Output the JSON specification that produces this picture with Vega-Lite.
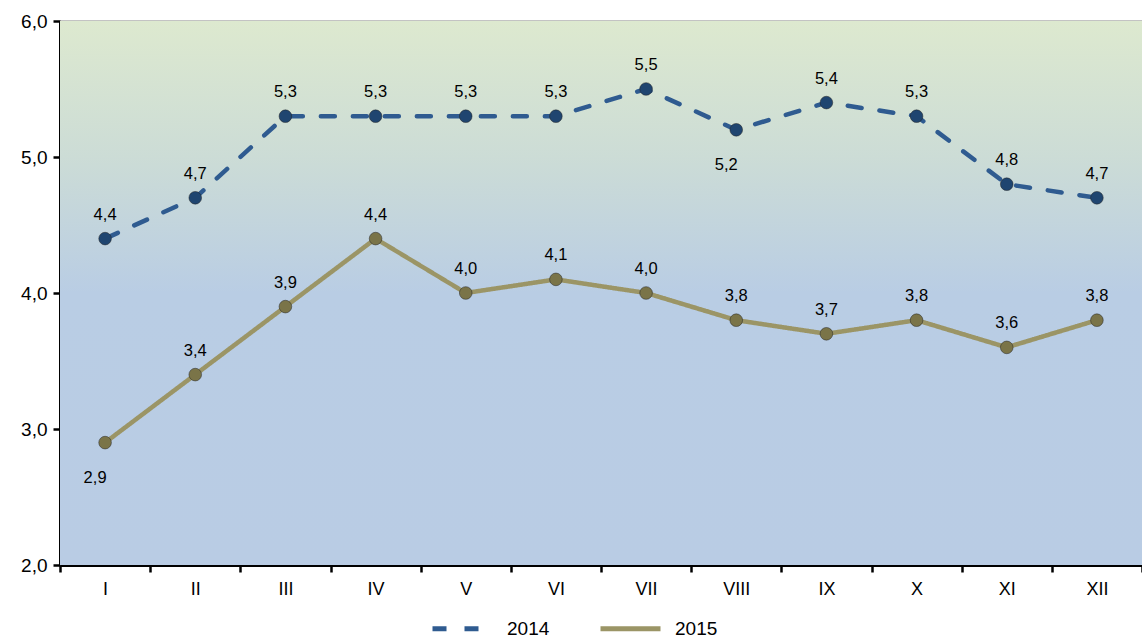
{
  "$schema": "https://vega.github.io/schema/vega-lite/v6.json",
  "width": 1082,
  "height": 544,
  "autosize": {"type": "none"},
  "padding": {"left": 60, "top": 21, "right": 0, "bottom": 76},
  "background": "white",
  "config": {
    "locale": {"number": {"decimal": ",", "thousands": ".", "grouping": [3], "currency": ["", " €"]}},
    "font": "Liberation Sans",
    "view": {"stroke": null}
  },
  "datasets": {
    "bg": [{"lo": 2, "hi": 6}],
    "series": [
      {"month": "I", "year": "2014", "value": 4.4},
      {"month": "II", "year": "2014", "value": 4.7},
      {"month": "III", "year": "2014", "value": 5.3},
      {"month": "IV", "year": "2014", "value": 5.3},
      {"month": "V", "year": "2014", "value": 5.3},
      {"month": "VI", "year": "2014", "value": 5.3},
      {"month": "VII", "year": "2014", "value": 5.5},
      {"month": "VIII", "year": "2014", "value": 5.2},
      {"month": "IX", "year": "2014", "value": 5.4},
      {"month": "X", "year": "2014", "value": 5.3},
      {"month": "XI", "year": "2014", "value": 4.8},
      {"month": "XII", "year": "2014", "value": 4.7},
      {"month": "I", "year": "2015", "value": 2.9},
      {"month": "II", "year": "2015", "value": 3.4},
      {"month": "III", "year": "2015", "value": 3.9},
      {"month": "IV", "year": "2015", "value": 4.4},
      {"month": "V", "year": "2015", "value": 4.0},
      {"month": "VI", "year": "2015", "value": 4.1},
      {"month": "VII", "year": "2015", "value": 4.0},
      {"month": "VIII", "year": "2015", "value": 3.8},
      {"month": "IX", "year": "2015", "value": 3.7},
      {"month": "X", "year": "2015", "value": 3.8},
      {"month": "XI", "year": "2015", "value": 3.6},
      {"month": "XII", "year": "2015", "value": 3.8}
    ]
  },
  "layer": [
    {
      "data": {"name": "bg"},
      "mark": {
        "type": "rect",
        "fill": {
          "gradient": "linear", "x1": 0, "y1": 0, "x2": 0, "y2": 1,
          "stops": [
            {"offset": 0, "color": "#dde9cf"},
            {"offset": 0.25, "color": "#ccdcd6"},
            {"offset": 0.5, "color": "#b9cde4"},
            {"offset": 1, "color": "#b9cce4"}
          ]
        }
      },
      "encoding": {
        "y": {
          "field": "hi", "type": "quantitative", "scale": {"domain": [2, 6], "nice": false, "zero": false},
          "axis": {
            "title": null, "values": [2, 3, 4, 5, 6], "format": ".1f",
            "labelFontSize": 19, "labelColor": "#000", "labelFont": "Liberation Sans", "labelPadding": 6,
            "domainColor": "#000", "domainWidth": 3, "tickColor": "#000", "tickWidth": 2.5, "tickSize": 7,
            "grid": true, "gridColor": "#888888", "gridWidth": 2
          }
        },
        "y2": {"field": "lo"}
      }
    },
    {
      "data": {"name": "series"},
      "encoding": {
        "x": {
          "field": "month", "type": "ordinal",
          "sort": ["I","II","III","IV","V","VI","VII","VIII","IX","X","XI","XII"],
          "scale": {"paddingInner": 0, "paddingOuter": 0},
          "axis": {
            "title": null, "labelAngle": 0, "labelFontSize": 18, "labelColor": "#000",
            "labelFont": "Liberation Sans", "labelPadding": 8,
            "domainColor": "#000", "domainWidth": 3, "tickColor": "#000", "tickWidth": 2.5,
            "tickSize": 7, "tickBand": "extent", "grid": false
          }
        },
        "y": {
          "field": "value", "type": "quantitative",
          "scale": {"domain": [2, 6], "nice": false, "zero": false},
          "axis": {
            "title": null, "values": [2, 3, 4, 5, 6], "format": ".1f",
            "labelFontSize": 19, "labelColor": "#000", "labelFont": "Liberation Sans", "labelPadding": 6,
            "domainColor": "#000", "domainWidth": 3, "tickColor": "#000", "tickWidth": 2.5, "tickSize": 7,
            "grid": true, "gridColor": "#888888", "gridWidth": 2
          }
        }
      },
      "layer": [
        {
          "mark": {"type": "line", "strokeWidth": 4.5, "strokeCap": "round"},
          "encoding": {
            "color": {
              "field": "year", "type": "nominal",
              "scale": {"domain": ["2014", "2015"], "range": ["#2f5b90", "#9b9566"]},
              "legend": {
                "title": null, "orient": "none", "direction": "horizontal",
                "legendX": 370, "legendY": 575,
                "labelFontSize": 19, "labelColor": "#000", "labelFont": "Liberation Sans",
                "symbolType": "stroke", "symbolSize": 3600, "symbolStrokeWidth": 5,
                "columnPadding": 40, "labelOffset": 12
              }
            },
            "strokeDash": {
              "field": "year", "type": "nominal",
              "scale": {"domain": ["2014", "2015"], "range": [[14, 18], [1, 0]]},
              "legend": null
            }
          }
        },
        {
          "mark": {"type": "point", "filled": true, "size": 160, "opacity": 1, "stroke": "#222", "strokeWidth": 0.5},
          "encoding": {
            "fill": {
              "field": "year", "type": "nominal",
              "scale": {"domain": ["2014", "2015"], "range": ["#1f4570", "#7a7448"]},
              "legend": null
            }
          }
        },
        {
          "transform": [{"filter": "!((datum.year == '2014' && datum.month == 'VIII') || (datum.year == '2015' && datum.month == 'I'))"}],
          "mark": {"type": "text", "dy": -24, "fontSize": 16.5, "font": "Liberation Sans", "color": "#000"},
          "encoding": {"text": {"field": "value", "type": "quantitative", "format": ".1f"}}
        },
        {
          "transform": [{"filter": "(datum.year == '2014' && datum.month == 'VIII') || (datum.year == '2015' && datum.month == 'I')"}],
          "mark": {"type": "text", "dy": 35, "dx": -10, "fontSize": 16.5, "font": "Liberation Sans", "color": "#000"},
          "encoding": {"text": {"field": "value", "type": "quantitative", "format": ".1f"}}
        }
      ]
    }
  ]
}
